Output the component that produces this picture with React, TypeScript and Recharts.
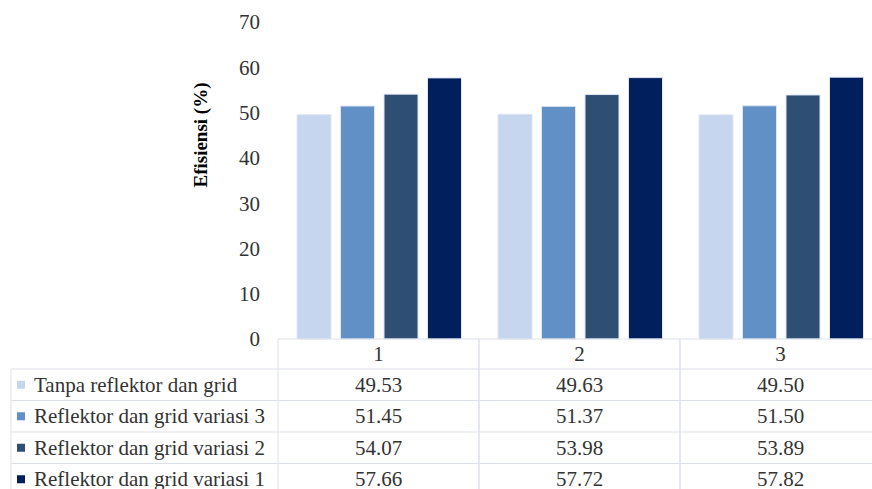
import React from 'react';
import { BarChart, Bar, XAxis, YAxis, Label } from 'recharts';

// Efisiensi per percobaan (data table under the chart)
const categories = ['1', '2', '3'];
const seriesNames = [
  'Tanpa reflektor dan grid',
  'Reflektor dan grid variasi 3',
  'Reflektor dan grid variasi 2',
  'Reflektor dan grid variasi 1',
];
const tanpaReflektor = [49.53, 49.63, 49.5];
const variasi3 = [51.45, 51.37, 51.5];
const variasi2 = [54.07, 53.98, 53.89];
const variasi1 = [57.66, 57.72, 57.82];
const yTicks = [0, 10, 20, 30, 40, 50, 60, 70];

const seriesValues = [tanpaReflektor, variasi3, variasi2, variasi1];
const seriesKeys = ['s0', 's1', 's2', 's3'];
const colors = ['#c6d6ee', '#6190c6', '#2e4e74', '#001f5c'];

const FONT = '"Liberation Serif", "Times New Roman", serif';
const TEXT = '#333333';
const GRID = '#dde1ea';

const data = categories.map((name, i) => {
  const row: Record<string, string | number> = { name };
  seriesKeys.forEach((k, s) => {
    row[k] = seriesValues[s][i];
  });
  return row;
});

const HEADER_H = 30;
const ROW_H = 31.5;

// data table cells drawn as the x axis ticks
const TableTick = (props: any) => {
  const { x, y, payload } = props;
  const index = payload?.index ?? props.index ?? 0;
  const count = props.visibleTicksCount || categories.length;
  const band = props.width ? props.width / count : 201;
  const left = x - band / 2;
  const right = x + band / 2;
  const bottom = y + HEADER_H + ROW_H * seriesKeys.length;
  const rowTop = (r: number) => y + HEADER_H + ROW_H * r;

  return (
    <g>
      <line x1={left} x2={right} y1={y} y2={y} stroke={GRID} />
      <line x1={left} x2={left} y1={y} y2={bottom} stroke={GRID} />
      <line x1={right} x2={right} y1={y} y2={bottom} stroke={GRID} />
      {seriesKeys.map((_, r) => (
        <line key={'h' + r} x1={left} x2={right} y1={rowTop(r)} y2={rowTop(r)} stroke={GRID} />
      ))}
      <text x={x} y={y + HEADER_H / 2} textAnchor="middle" dominantBaseline="central"
        fontFamily={FONT} fontSize={21} fill={TEXT}>
        {payload.value}
      </text>
      {seriesValues.map((vals, r) => (
        <text key={'v' + r} x={x} y={rowTop(r) + ROW_H / 2} textAnchor="middle" dominantBaseline="central"
          fontFamily={FONT} fontSize={21} fill={TEXT}>
          {vals[index].toFixed(2)}
        </text>
      ))}
      {index === 0 && (
        <g>
          <line x1={11} x2={11} y1={rowTop(0)} y2={bottom} stroke={GRID} />
          {seriesKeys.map((_, r) => (
            <g key={'l' + r}>
              <line x1={11} x2={left} y1={rowTop(r)} y2={rowTop(r)} stroke={GRID} />
              <rect x={17} y={rowTop(r) + ROW_H / 2 - 4} width={8} height={8} fill={colors[r]} />
              <text x={34} y={rowTop(r) + ROW_H / 2} dominantBaseline="central"
                fontFamily={FONT} fontSize={21} fill={TEXT}>
                {seriesNames[r]}
              </text>
            </g>
          ))}
        </g>
      )}
    </g>
  );
};

export default function App() {
  return (
    <div style={{
      position: 'absolute',
      left: 0,
      top: 0,
      width: 872,
      height: 489,
      overflow: 'hidden',
      background: '#fff',
    }}>
      <BarChart
        width={890}
        height={500}
        data={data}
        margin={{ top: 22, right: 9, left: 0, bottom: 0 }}
        barCategoryGap={19}
        barGap={9.5}
      >
        <XAxis
          dataKey="name"
          axisLine={false}
          tickLine={false}
          tickSize={0}
          tickMargin={0}
          interval={0}
          height={161}
          tick={<TableTick />}
        />
        <YAxis
          domain={[0, 70]}
          ticks={yTicks}
          width={278}
          axisLine={false}
          tickLine={false}
          tickSize={0}
          tickMargin={18}
          tick={{ fill: TEXT, fontSize: 21, fontFamily: FONT }}
        >
          <Label
            content={() => (
              <text
                transform="translate(200,135) rotate(-90)"
                textAnchor="middle"
                dominantBaseline="central"
                fontFamily={FONT}
                fontSize={19}
                fontWeight="bold"
                fill="#000"
              >
                Efisiensi (%)
              </text>
            )}
          />
        </YAxis>
        {seriesKeys.map((k, s) => (
          <Bar
            key={k}
            dataKey={k}
            name={seriesNames[s]}
            fill={colors[s]}
            stroke="#dfe6f2"
            strokeWidth={1}
            isAnimationActive={false}
          />
        ))}
      </BarChart>
    </div>
  );
}
